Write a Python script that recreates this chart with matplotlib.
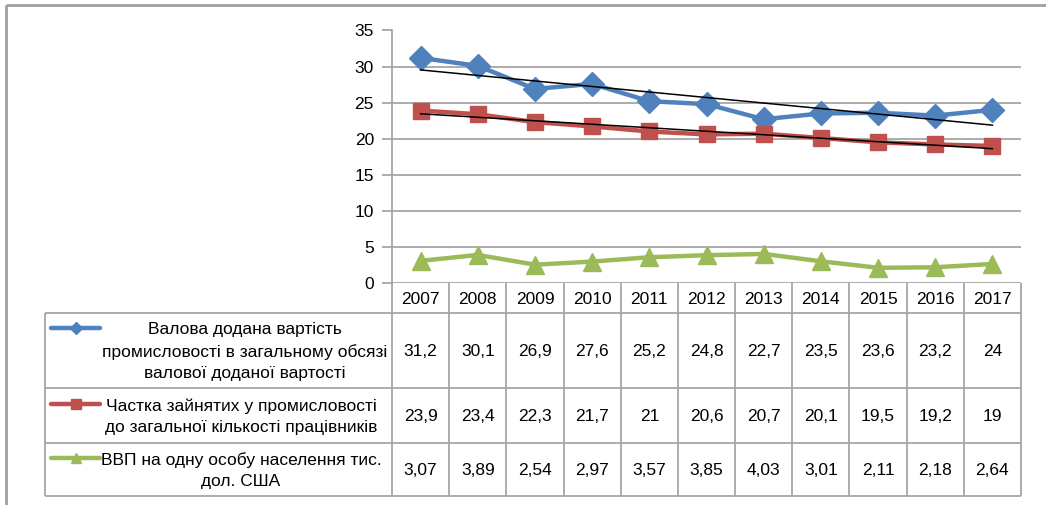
import numpy as np
import matplotlib
matplotlib.use("Agg")
import matplotlib.pyplot as plt
from matplotlib.lines import Line2D

years = ["2007", "2008", "2009", "2010", "2011", "2012", "2013", "2014", "2015", "2016", "2017"]
gva_share = [31.2, 30.1, 26.9, 27.6, 25.2, 24.8, 22.7, 23.5, 23.6, 23.2, 24.0]
employment_share = [23.9, 23.4, 22.3, 21.7, 21.0, 20.6, 20.7, 20.1, 19.5, 19.2, 19.0]
gdp_per_capita = [3.07, 3.89, 2.54, 2.97, 3.57, 3.85, 4.03, 3.01, 2.11, 2.18, 2.64]
gva_labels = ["31,2", "30,1", "26,9", "27,6", "25,2", "24,8", "22,7", "23,5", "23,6", "23,2", "24"]
emp_labels = ["23,9", "23,4", "22,3", "21,7", "21", "20,6", "20,7", "20,1", "19,5", "19,2", "19"]
gdp_labels = ["3,07", "3,89", "2,54", "2,97", "3,57", "3,85", "4,03", "3,01", "2,11", "2,18", "2,64"]
series_names = [
    "Валова додана вартість\nпромисловості в загальному обсязі\nвалової доданої вартості",
    "Частка зайнятих у промисловості\nдо загальної кількості працівників",
    "ВВП на одну особу населення тис.\nдол. США",
]
yticks = [0, 5, 10, 15, 20, 25, 30, 35]

W, H = 1046, 505
FONT = "Liberation Sans"
plt.rcParams['font.family'] = [FONT, 'DejaVu Sans']
FS = 12.5

colors = ["#4F81BD", "#C0504D", "#9BBB59"]
markers = ["D", "s", "^"]
msizes = [12, 12, 13]
grid_c = "#A6A6A6"

fig = plt.figure(figsize=(W / 100, H / 100), dpi=100)

# pixel geometry
ax_l, ax_r, ax_t, ax_b = 392, 1021, 30.5, 283
ax = fig.add_axes([ax_l / W, 1 - ax_b / H, (ax_r - ax_l) / W, (ax_b - ax_t) / H])
x = np.arange(len(years))
series = [gva_share, employment_share, gdp_per_capita]
for s, c, m, ms in zip(series, colors, markers, msizes):
    ax.plot(x, s, color=c, lw=3.2, marker=m, markersize=ms, zorder=3)
for s in series[:2]:
    k, b = np.polyfit(x, s, 1)
    ax.plot([x[0], x[-1]], [k * x[0] + b, k * x[-1] + b], color="black", lw=1.1, zorder=4)
ax.set_xlim(-0.5, len(years) - 0.5)
ax.set_ylim(0, 35)
ax.set_yticks(yticks)
ax.set_yticklabels([str(t) for t in yticks], fontsize=FS)
ax.set_xticks([])
ax.yaxis.grid(True, color=grid_c, lw=1.3)
ax.set_axisbelow(True)
for sp in ["top", "right", "bottom"]:
    ax.spines[sp].set_visible(False)
ax.spines["left"].set_color(grid_c)
ax.spines["left"].set_linewidth(1.3)
ax.tick_params(axis="y", length=7, width=1.3, color=grid_c, pad=6)

# overlay in pixel coordinates
ov = fig.add_axes([0, 0, 1, 1], facecolor="none")
ov.set_xlim(0, W)
ov.set_ylim(H, 0)
ov.axis("off")

def line(x0, y0, x1, y1, c=grid_c, lw=1.3):
    ov.add_line(Line2D([x0, x1], [y0, y1], color=c, lw=lw, solid_capstyle="butt"))

# outer frame
line(6, 5, W, 5, c="#A0A0A0", lw=2)
line(6, 5, 6, H, c="#A0A0A0", lw=2)

cw = (ax_r - ax_l) / len(years)
col_x = [ax_l + i * cw for i in range(len(years) + 1)]
hdr_t, hdr_b = ax_b, 313
rows = [(313, 388), (388, 443), (443, 496)]
leg_l = 45

# header
for cx in col_x:
    line(cx, hdr_t, cx, rows[-1][1])
line(col_x[0], hdr_b, col_x[-1], hdr_b)
for i, yl in enumerate(years):
    ov.text(col_x[i] + cw / 2, (hdr_t + hdr_b) / 2 + 1, yl, ha="center", va="center", fontsize=FS)

# rows
line(leg_l, rows[0][0], col_x[0], rows[0][0])
line(leg_l, rows[0][0], leg_l, rows[-1][1])
for (rt, rb) in rows:
    line(leg_l, rb, col_x[-1], rb)

labels = [gva_labels, emp_labels, gdp_labels]
text_cx = [245, 241, 241]
for r, ((rt, rb), lab, name, c, m, ms) in enumerate(zip(rows, labels, series_names, colors, markers, msizes)):
    nlines = name.count("\n") + 1
    first_y = (rt + rb) / 2 - (nlines - 1) * 22.5 / 2
    ov.text(text_cx[r], (rt + rb) / 2 + 1, name, ha="center", va="center", fontsize=FS,
            linespacing=1.5)
    ov.plot([51, 100], [first_y, first_y], color=c, lw=3.2, solid_capstyle="round")
    ov.plot([75.5], [first_y], color=c, marker=m, markersize=ms * 0.55)
    for i, v in enumerate(lab):
        ov.text(col_x[i] + cw / 2, (rt + rb) / 2 + 1, v, ha="center", va="center", fontsize=FS)

fig.savefig("out.png", dpi=100)
